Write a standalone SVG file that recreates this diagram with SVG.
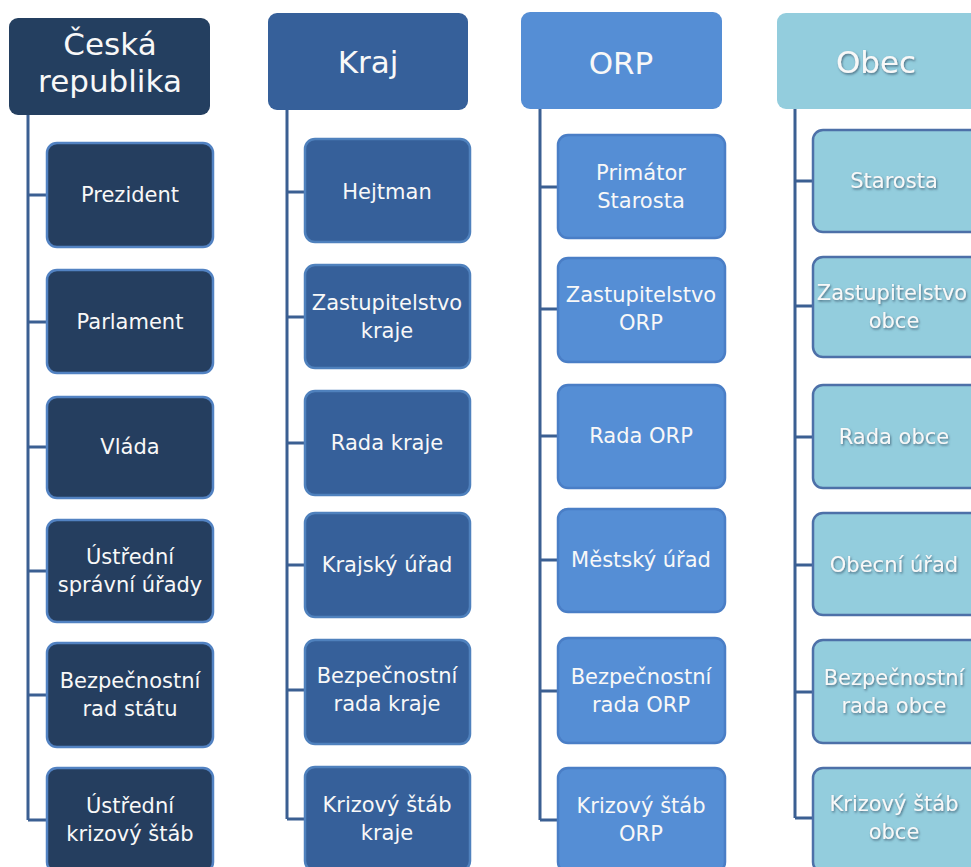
<svg xmlns="http://www.w3.org/2000/svg" width="971" height="867" viewBox="0 0 971 867">
<defs>
<style>
.t{font-family:"DejaVu Sans","Liberation Sans",sans-serif;fill:#F8F8F8;text-anchor:middle}
.h{font-size:31px}
.b{font-size:21px}
.c1h{fill:#243F60}
.c1b{fill:#253E5F;stroke:#5282C2;stroke-width:2.5}
.c2h{fill:#36609A}
.c2b{fill:#36609A;stroke:#4F81BD;stroke-width:2.5}
.c3h{fill:#558ED5}
.c3b{fill:#558ED5;stroke:#4A7EC6;stroke-width:2.5}
.c4h{fill:#93CDDD}
.c4b{fill:#93CDDD;stroke:#4D70A8;stroke-width:2.5}
.ln{fill:none;stroke:#3B5F92;stroke-width:3}
.sh{filter:url(#ds)}
</style>
<filter id="ds" x="-10%" y="-20%" width="130%" height="150%">
<feDropShadow dx="1" dy="1.5" stdDeviation="0.8" flood-color="#3A5A70" flood-opacity="0.8"/>
</filter>
</defs>
<rect width="971" height="867" fill="#ffffff"/>

<g id="connectors">
<path class="ln" d="M28 115 V820 M28 195 H47 M28 322 H47 M28 447 H47 M28 571 H47 M28 695 H47 M28 820 H47"/>
<path class="ln" d="M287 110 V819 M287 192 H305 M287 317 H305 M287 443 H305 M287 565 H305 M287 690 H305 M287 819 H305"/>
<path class="ln" d="M540 109 V820 M540 187 H558 M540 309 H558 M540 436 H558 M540 560 H558 M540 691 H558 M540 820 H558"/>
<path class="ln" d="M795 109 V818 M795 181 H813 M795 306 H813 M795 437 H813 M795 565 H813 M795 692 H813 M795 818 H813"/>
</g>

<!-- Column 1 -->
<g id="cr">
<rect class="c1h" x="9" y="18" width="201" height="97" rx="9"/>
<text class="t h" x="110" y="55">Česká</text>
<text class="t h" x="110" y="92">republika</text>
</g>
<g id="prezident"><rect class="c1b" x="47" y="143" width="166" height="104" rx="10"/><text class="t b" x="130" y="202">Prezident</text></g>
<g id="parlament"><rect class="c1b" x="47" y="270" width="166" height="103" rx="10"/><text class="t b" x="130" y="329">Parlament</text></g>
<g id="vlada"><rect class="c1b" x="47" y="397" width="166" height="101" rx="10"/><text class="t b" x="130" y="454">Vláda</text></g>
<g id="ustredni-spravni"><rect class="c1b" x="47" y="520" width="166" height="102" rx="10"/><text class="t b" x="130" y="564">Ústřední</text><text class="t b" x="130" y="592">správní úřady</text></g>
<g id="bezp-rad-statu"><rect class="c1b" x="47" y="643" width="166" height="104" rx="10"/><text class="t b" x="130" y="688">Bezpečnostní</text><text class="t b" x="130" y="716">rad státu</text></g>
<g id="ustredni-krizovy"><rect class="c1b" x="47" y="768" width="166" height="104" rx="10"/><text class="t b" x="130" y="813">Ústřední</text><text class="t b" x="130" y="841">krizový štáb</text></g>

<!-- Column 2 -->
<g id="kraj">
<rect class="c2h" x="268" y="13" width="200" height="97" rx="9"/>
<text class="t h" x="368" y="73">Kraj</text>
</g>
<g id="hejtman"><rect class="c2b" x="305" y="139" width="165" height="103" rx="10"/><text class="t b" x="387" y="199">Hejtman</text></g>
<g id="zastup-kraje"><rect class="c2b" x="305" y="265" width="165" height="103" rx="10"/><text class="t b" x="387" y="310">Zastupitelstvo</text><text class="t b" x="387" y="338">kraje</text></g>
<g id="rada-kraje"><rect class="c2b" x="305" y="391" width="165" height="104" rx="10"/><text class="t b" x="387" y="450">Rada kraje</text></g>
<g id="krajsky-urad"><rect class="c2b" x="305" y="513" width="165" height="104" rx="10"/><text class="t b" x="387" y="572">Krajský úřad</text></g>
<g id="bezp-rada-kraje"><rect class="c2b" x="305" y="640" width="165" height="104" rx="10"/><text class="t b" x="387" y="683">Bezpečnostní</text><text class="t b" x="387" y="711">rada kraje</text></g>
<g id="krizovy-kraje"><rect class="c2b" x="305" y="767" width="165" height="104" rx="10"/><text class="t b" x="387" y="812">Krizový štáb</text><text class="t b" x="387" y="840">kraje</text></g>

<!-- Column 3 -->
<g id="orp">
<rect class="c3h" x="521" y="12" width="201" height="97" rx="9"/>
<text class="t h" x="621" y="74">ORP</text>
</g>
<g id="primator"><rect class="c3b" x="558" y="135" width="167" height="103" rx="10"/><text class="t b" x="641" y="180">Primátor</text><text class="t b" x="641" y="208">Starosta</text></g>
<g id="zastup-orp"><rect class="c3b" x="558" y="258" width="167" height="104" rx="10"/><text class="t b" x="641" y="302">Zastupitelstvo</text><text class="t b" x="641" y="330">ORP</text></g>
<g id="rada-orp"><rect class="c3b" x="558" y="385" width="167" height="103" rx="10"/><text class="t b" x="641" y="443">Rada ORP</text></g>
<g id="mestsky-urad"><rect class="c3b" x="558" y="509" width="167" height="103" rx="10"/><text class="t b" x="641" y="567">Městský úřad</text></g>
<g id="bezp-rada-orp"><rect class="c3b" x="558" y="638" width="167" height="105" rx="10"/><text class="t b" x="641" y="684">Bezpečnostní</text><text class="t b" x="641" y="712">rada ORP</text></g>
<g id="krizovy-orp"><rect class="c3b" x="558" y="768" width="167" height="104" rx="10"/><text class="t b" x="641" y="813">Krizový štáb</text><text class="t b" x="641" y="841">ORP</text></g>

<!-- Column 4 -->
<g id="obec">
<rect class="c4h" x="777" y="13" width="210" height="96" rx="9"/>
<text class="t h sh" x="876" y="73">Obec</text>
</g>
<g id="starosta"><rect class="c4b" x="813" y="130" width="170" height="102" rx="10"/><text class="t b sh" x="894" y="188">Starosta</text></g>
<g id="zastup-obce"><rect class="c4b" x="813" y="257" width="170" height="100" rx="10"/><text class="t b sh" x="892" y="300">Zastupitelstvo</text><text class="t b sh" x="894" y="328">obce</text></g>
<g id="rada-obce"><rect class="c4b" x="813" y="385" width="170" height="103" rx="10"/><text class="t b sh" x="894" y="444">Rada obce</text></g>
<g id="obecni-urad"><rect class="c4b" x="813" y="513" width="170" height="102" rx="10"/><text class="t b sh" x="894" y="572">Obecní úřad</text></g>
<g id="bezp-rada-obce"><rect class="c4b" x="813" y="640" width="170" height="103" rx="10"/><text class="t b sh" x="894" y="685">Bezpečnostní</text><text class="t b sh" x="894" y="713">rada obce</text></g>
<g id="krizovy-obce"><rect class="c4b" x="813" y="768" width="170" height="104" rx="10"/><text class="t b sh" x="894" y="811">Krizový štáb</text><text class="t b sh" x="894" y="839">obce</text></g>
</svg>
